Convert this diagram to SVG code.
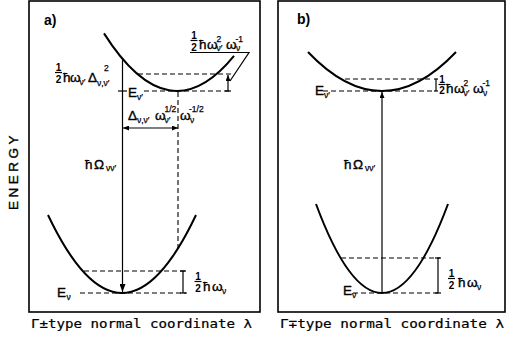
<svg xmlns="http://www.w3.org/2000/svg" width="508" height="343" viewBox="0 0 508 343">
<defs>
<style>
.frame{fill:none;stroke:#000;stroke-width:1.6}
.curve{fill:none;stroke:#000;stroke-width:2}
.ln{fill:none;stroke:#000;stroke-width:1.2}
.ds{fill:none;stroke:#000;stroke-width:1.1;stroke-dasharray:5 3}
text{font-family:"Liberation Sans",Arial,sans-serif;fill:#000}
.t{font-size:13.5px;stroke:#000;stroke-width:0.35}
.s{font-size:8.5px;stroke:#000;stroke-width:0.25}
.f{font-size:10px;font-weight:bold;text-anchor:middle}
.lab{font-size:14px;font-weight:bold}
.cap{font-family:"DejaVu Sans Mono",monospace;font-size:12.5px;stroke:#000;stroke-width:0.2}
</style>
<marker id="ah" viewBox="0 0 8 6" refX="8" refY="3" markerWidth="8" markerHeight="6" markerUnits="userSpaceOnUse" orient="auto-start-reverse">
<path d="M0,0 L8,3 L0,6 z" fill="#000"/>
</marker>
<marker id="sh" viewBox="0 0 6 5" refX="6" refY="2.5" markerWidth="6" markerHeight="5" markerUnits="userSpaceOnUse" orient="auto-start-reverse">
<path d="M0,0 L6,2.5 L0,5 z" fill="#000"/>
</marker>
</defs>

<!-- Panel a -->
<g id="panel-a">
<rect class="frame" x="29" y="1" width="231" height="311"/>
<text class="lab" x="44" y="25">a)</text>
<text class="t" transform="translate(18,171) rotate(-90)" text-anchor="middle" letter-spacing="3.5">ENERGY</text>
<text class="cap" x="31" y="328" textLength="221" lengthAdjust="spacingAndGlyphs">Γ±type  normal coordinate λ</text>
</g>

<g id="upper-curve-a">
<path class="curve" d="M104,33.4 Q169,135.9 234,55.9"/>
</g>
<g id="lower-curve-a">
<path class="curve" d="M48,215 Q122,371 196,215"/>
</g>

<g id="connectors-a">
<line class="ds" x1="138" y1="74" x2="231" y2="74"/>
<line class="ds" x1="144" y1="91" x2="232" y2="91"/>
<line class="ds" x1="178" y1="92" x2="178" y2="248"/>
<line class="ds" x1="84" y1="271" x2="188" y2="271"/>
<line class="ds" x1="80" y1="293" x2="187" y2="293"/>
<line class="ln" x1="122.5" y1="58" x2="122.5" y2="292" marker-end="url(#ah)"/>
<line class="ln" x1="118" y1="91" x2="127" y2="91"/>
<line class="ln" x1="123" y1="128" x2="178" y2="128" marker-start="url(#sh)" marker-end="url(#sh)"/>
<line class="ln" x1="228" y1="75" x2="228" y2="91" marker-start="url(#sh)"/>
<line class="ln" x1="225" y1="91" x2="231" y2="91"/>
<polyline class="ln" points="190,52.5 249,52.5 230,81"/>
<line class="ln" x1="183" y1="271" x2="183" y2="293"/>
<line class="ln" x1="180" y1="271" x2="186" y2="271"/>
<line class="ln" x1="180" y1="293" x2="186" y2="293"/>
</g>

<g id="labels-a">
<text class="f" x="58.5" y="71">1</text>
<line class="ln" x1="55" y1="72.5" x2="62" y2="72.5"/>
<text class="f" x="58.5" y="83">2</text>
<text class="t" x="63" y="82">ħ</text>
<text class="t" x="70" y="82">ω</text>
<text class="s" x="79.5" y="85">ν′</text>
<text class="t" x="88" y="82">Δ</text>
<text class="s" x="104" y="71">2</text>
<text class="s" x="97" y="86">ν,ν′</text>
<text class="t" x="128" y="97">E</text>
<text class="s" x="137" y="100">ν′</text>
<text class="f" x="194" y="39">1</text>
<line class="ln" x1="190.5" y1="40.5" x2="197.5" y2="40.5"/>
<text class="f" x="194" y="50.5">2</text>
<text class="t" x="199" y="49">ħ</text>
<text class="t" x="207" y="49">ω</text>
<text class="s" x="216.5" y="42">2</text>
<text class="s" x="216.5" y="51">ν′</text>
<text class="t" x="226" y="49">ω</text>
<text class="s" x="235.5" y="42">-1</text>
<text class="s" x="236" y="51">ν</text>
<text class="t" x="128" y="120">Δ</text>
<text class="s" x="137" y="123">ν,ν′</text>
<text class="t" x="155" y="120">ω</text>
<text class="s" x="164.5" y="112">1/2</text>
<text class="s" x="164.5" y="123">ν′</text>
<text class="t" x="180" y="120">ω</text>
<text class="s" x="189" y="112">-1/2</text>
<text class="s" x="190" y="123">ν</text>
<text class="t" x="85" y="169" font-size="14">ħ</text>
<text class="t" x="94" y="169" font-size="14">Ω</text>
<text class="s" x="106" y="171">νν′</text>
<text class="f" x="198" y="280">1</text>
<line class="ln" x1="194.5" y1="281.5" x2="201.5" y2="281.5"/>
<text class="f" x="198" y="292">2</text>
<text class="t" x="203" y="291">ħ</text>
<text class="t" x="212" y="291">ω</text>
<text class="s" x="222" y="294">ν</text>
<text class="t" x="57" y="297">E</text>
<text class="s" x="66.5" y="300">ν</text>
</g>

<!-- Panel b -->
<g id="panel-b">
<rect class="frame" x="278" y="1" width="227" height="311"/>
<text class="lab" x="297" y="24">b)</text>
<text class="cap" x="280" y="328" textLength="224" lengthAdjust="spacingAndGlyphs">Γ∓type normal coordinate λ</text>
</g>

<g id="upper-curve-b">
<path class="curve" d="M308,52 Q382,130 456,52"/>
</g>
<g id="lower-curve-b">
<path class="curve" d="M316,204 Q382,382 448,204"/>
</g>

<g id="connectors-b">
<line class="ds" x1="345" y1="79" x2="433" y2="79"/>
<line class="ds" x1="323" y1="91" x2="433" y2="91"/>
<line class="ds" x1="341" y1="258" x2="440" y2="258"/>
<line class="ds" x1="353" y1="293" x2="440" y2="293"/>
<line class="ln" x1="382" y1="293" x2="382" y2="92" marker-end="url(#sh)"/>
<line class="ln" x1="436" y1="79" x2="436" y2="91"/>
<line class="ln" x1="434" y1="79" x2="438" y2="79"/>
<line class="ln" x1="434" y1="91" x2="438" y2="91"/>
<line class="ln" x1="438" y1="258" x2="438" y2="293"/>
<line class="ln" x1="435" y1="258" x2="441" y2="258"/>
<line class="ln" x1="435" y1="293" x2="441" y2="293"/>
</g>

<g id="labels-b">
<text class="t" x="315" y="95">E</text>
<text class="s" x="324" y="98">ν′</text>
<text class="f" x="442" y="83">1</text>
<line class="ln" x1="438.5" y1="84.5" x2="445.5" y2="84.5"/>
<text class="f" x="442" y="94">2</text>
<text class="t" x="446" y="93">ħ</text>
<text class="t" x="454" y="93">ω</text>
<text class="s" x="463.5" y="86">2</text>
<text class="s" x="463.5" y="96">ν′</text>
<text class="t" x="473" y="93">ω</text>
<text class="s" x="482.5" y="86">-1</text>
<text class="s" x="483" y="96">ν</text>
<text class="t" x="344" y="169" font-size="14">ħ</text>
<text class="t" x="353" y="169" font-size="14">Ω</text>
<text class="s" x="365" y="171">νν′</text>
<text class="f" x="451.5" y="277">1</text>
<line class="ln" x1="448" y1="278.5" x2="455" y2="278.5"/>
<text class="f" x="451.5" y="289">2</text>
<text class="t" x="458" y="287">ħ</text>
<text class="t" x="467" y="287">ω</text>
<text class="s" x="477" y="290">ν</text>
<text class="t" x="343" y="295">E</text>
<text class="s" x="352" y="298">ν</text>
</g>
</svg>
